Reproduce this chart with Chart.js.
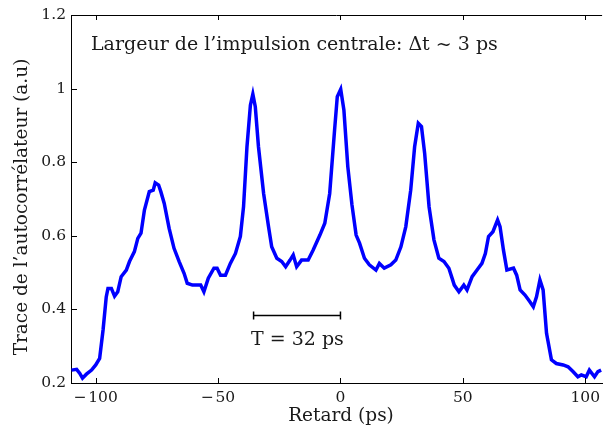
<!DOCTYPE html>
<html>
<head>
<meta charset="utf-8">
<script src="https://cdn.jsdelivr.net/npm/chart.js@4.4.0/dist/chart.umd.min.js"></script>
<style>
  html, body { margin: 0; padding: 0; background: #fff; }
  #wrap { width: 606px; height: 432px; position: relative; }
</style>
</head>
<body>
<div id="wrap"><canvas id="chart"></canvas></div>
<script>
// ---------- Données ----------
const retard = [
  -109.9, -107.8, -106.5, -105.4, -103.8, -101.7, -100.0, -98.4, -97.0, -95.7,
  -95.0, -93.6, -92.3, -91.0, -89.6, -87.5, -86.2, -84.2, -82.8, -81.5,
  -80.1, -78.1, -76.5, -75.7, -74.3, -73.4, -72.0, -70.0, -68.0, -65.9,
  -63.9, -62.6, -60.5, -57.1, -55.8, -54.0, -51.7, -50.4, -49.0, -47.0,
  -45.0, -42.9, -40.9, -39.6, -38.2, -36.8, -35.8, -34.8, -33.5, -31.4,
  -29.4, -28.1, -26.0, -24.0, -22.4, -20.6, -19.3, -17.9, -15.9, -13.2,
  -11.2, -8.4, -6.4, -4.4, -2.4, -1.3, 0.1, 1.4, 3.0, 4.7,
  6.4, 7.8, 9.8, 11.8, 14.5, 15.9, 17.9, 20.6, 22.6, 24.7,
  26.7, 28.7, 30.3, 31.8, 33.1, 34.4, 36.2, 38.2, 40.2, 42.3,
  44.3, 45.6, 46.5, 48.4, 50.4, 51.7, 53.8, 55.8, 57.8, 59.2,
  60.5, 62.3, 64.2, 65.2, 66.6, 68.0, 70.7, 72.0, 73.4, 75.4,
  77.4, 78.8, 80.1, 81.5, 82.8, 84.2, 86.2, 88.2, 91.0, 93.0,
  95.0, 97.0, 98.4, 100.4, 101.7, 103.8, 105.2, 106.5
];
const trace = [
  0.235, 0.237, 0.226, 0.213, 0.224, 0.235, 0.249, 0.267, 0.344, 0.434,
  0.457, 0.457, 0.436, 0.448, 0.489, 0.507, 0.530, 0.557, 0.593, 0.607,
  0.670, 0.720, 0.724, 0.744, 0.738, 0.720, 0.688, 0.620, 0.566, 0.530,
  0.498, 0.471, 0.466, 0.466, 0.448, 0.485, 0.512, 0.512, 0.493, 0.493,
  0.525, 0.552, 0.598, 0.679, 0.842, 0.955, 0.985, 0.951, 0.842, 0.715,
  0.625, 0.570, 0.539, 0.530, 0.516, 0.534, 0.548, 0.516, 0.534, 0.534,
  0.561, 0.602, 0.634, 0.715, 0.888, 0.978, 0.998, 0.942, 0.788, 0.684,
  0.602, 0.580, 0.539, 0.521, 0.507, 0.525, 0.512, 0.521, 0.534, 0.570,
  0.625, 0.724, 0.842, 0.906, 0.897, 0.824, 0.679, 0.589, 0.539, 0.530,
  0.512, 0.485, 0.466, 0.448, 0.466, 0.453, 0.489, 0.507, 0.525, 0.552,
  0.598, 0.611, 0.643, 0.625, 0.561, 0.507, 0.512, 0.493, 0.453, 0.439,
  0.421, 0.407, 0.434, 0.480, 0.453, 0.335, 0.263, 0.253, 0.249, 0.244,
  0.231, 0.217, 0.222, 0.217, 0.235, 0.217, 0.231, 0.235
];
const xTicks = [-100, -50, 0, 50, 100];
const yTicks = [0.2, 0.4, 0.6, 0.8, 1.0, 1.2];
const xLabels = ["\u2212\u200A100", "\u2212\u200A50", "0", "50", "100"];
const yLabels = ["0.2", "0.4", "0.6", "0.8", "1", "1.2"];
const periode = [-35.5, 0]; // barre T = 32 ps
const periodeY = 0.385;

const FONT = "'DejaVu Serif', serif";
const INK = "#1a1a1a";

// ---------- Ticks vers l'intérieur + annotations ----------
const decor = {
  id: "decor",
  afterDraw(chart) {
    const ctx = chart.ctx;
    const { left, right, top, bottom } = chart.chartArea;
    const sx = chart.scales.x, sy = chart.scales.y;
    ctx.save();
    ctx.strokeStyle = "#000";
    ctx.lineWidth = 1;
    ctx.beginPath();
    ctx.moveTo(left, top + 0.5); ctx.lineTo(right, top + 0.5);
    xTicks.forEach(v => {
      const px = Math.round(sx.getPixelForValue(v)) + 0.5;
      ctx.moveTo(px, bottom); ctx.lineTo(px, bottom - 5);
      ctx.moveTo(px, top); ctx.lineTo(px, top + 5);
    });
    yTicks.forEach(v => {
      const py = Math.round(sy.getPixelForValue(v)) + 0.5;
      ctx.moveTo(left, py); ctx.lineTo(left + 6, py);
    });
    ctx.stroke();

    // barre de période
    const x0 = sx.getPixelForValue(periode[0]), x1 = sx.getPixelForValue(periode[1]);
    const yb = Math.round(sy.getPixelForValue(periodeY)) + 0.5;
    ctx.lineWidth = 1.5;
    ctx.beginPath();
    ctx.moveTo(x0, yb); ctx.lineTo(x1, yb);
    ctx.moveTo(x0, yb - 4); ctx.lineTo(x0, yb + 4);
    ctx.moveTo(x1, yb - 4); ctx.lineTo(x1, yb + 4);
    ctx.stroke();

    ctx.fillStyle = INK;
    ctx.textBaseline = "middle";
    ctx.textAlign = "left";
    ctx.font = "19px " + FONT;
    ctx.fillText("Largeur de l\u2019impulsion centrale: \u0394t ~ 3 ps", 91, 45);
    ctx.fillText("T = 32 ps", 251, 340);

    ctx.font = "18.5px " + FONT;
    ctx.textAlign = "center";
    ctx.fillText("Retard (ps)", 341, 416);
    ctx.translate(22, 207);
    ctx.rotate(-Math.PI / 2);
    ctx.fillText("Trace de l\u2019autocorr\u00e9lateur (a.u)", 0, 0);
    ctx.restore();
  }
};

const points = retard.map((x, i) => ({ x, y: trace[i] }));

new Chart(document.getElementById("chart"), {
  type: "line",
  data: {
    datasets: [{
      data: points,
      borderColor: "#0000ff",
      borderWidth: 3.5,
      pointRadius: 0,
      tension: 0,
      fill: false
    }]
  },
  options: {
    responsive: true,
    maintainAspectRatio: false,
    animation: false,
    events: [],
    layout: { padding: { left: 0, right: 0, top: 15, bottom: 0 } },
    plugins: { legend: { display: false }, tooltip: { enabled: false } },
    scales: {
      x: {
        type: "linear",
        min: -110.1,
        max: 106.9,
        afterBuildTicks: s => { s.ticks = xTicks.map(v => ({ value: v })); },
        afterFit: s => { s.height = 49; },
        grid: { display: false, drawTicks: false },
        border: { display: true, color: "#000", width: 1 },
        ticks: {
          padding: 6,
          color: INK,
          font: { family: FONT, size: 15.5 },
          maxRotation: 0,
          callback: (v) => xLabels[xTicks.indexOf(v)]
        }
      },
      y: {
        min: 0.2,
        max: 1.2,
        afterBuildTicks: s => { s.ticks = yTicks.map(v => ({ value: v })); },
        afterFit: s => { s.width = 71; },
        grid: { display: false, drawTicks: false },
        border: { display: true, color: "#000", width: 1 },
        ticks: {
          padding: 5,
          color: INK,
          font: { family: FONT, size: 15.5 },
          callback: (v) => {
            const i = yTicks.findIndex(t => Math.abs(t - v) < 1e-6);
            return i >= 0 ? yLabels[i] : "";
          }
        }
      }
    }
  },
  plugins: [decor]
});
</script>
</body>
</html>
